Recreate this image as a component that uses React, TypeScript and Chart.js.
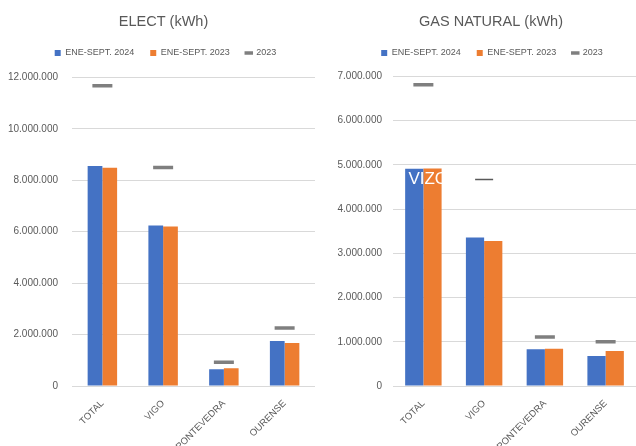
import React, { useEffect, useRef } from 'react';
import { Chart, registerables } from 'chart.js';
Chart.register(...registerables);

const categories = ['TOTAL', 'VIGO', 'PONTEVEDRA', 'OURENSE'];
const seriesNames = ['ENE-SEPT. 2024', 'ENE-SEPT. 2023', '2023'];

const electTitle = 'ELECT (kWh)';
const elect2024 = [8550000, 6240000, 650000, 1750000];
const elect2023 = [8490000, 6200000, 690000, 1670000];
const elect2023Marker = [11680000, 8500000, 920000, 2260000];
const electMax = 12000000;
const electStep = 2000000;

const gasTitle = 'GAS NATURAL (kWh)';
const gas2024 = [4910000, 3360000, 830000, 680000];
const gas2023 = [4920000, 3280000, 845000, 790000];
const gas2023Marker = [6810000, 4670000, 1110000, 1000000];
const gasMax = 7000000;
const gasStep = 1000000;

const overlayText = 'VIZO';

const FONT = "'Liberation Sans', Arial, sans-serif";
const TXT = '#595959';
const GRID = '#d9d9d9';
const BLUE = '#4472C4';
const ORANGE = '#ED7D31';
const MARK = '#7f7f7f';

const fmt = (v: number) => String(Math.round(v)).replace(/\B(?=(\d{3})+(?!\d))/g, '.');

type Opts = {
  title: string;
  a: number[];
  b: number[];
  m: number[];
  max: number;
  step: number;
  yWidth: number;
  tickPad: number;
  catPct: number;
  padRight: number;
  legendExtra: number;
  titleShift: number;
  legendShift: number;
  markerWidths: number[];
  markerRadii: number[];
  markerColors: string[];
  overlay?: string;
};

function makeChart(canvas: HTMLCanvasElement, o: Opts) {
  const helperPlugin = {
    id: 'helperPlugin',
    beforeLayout(chart: any) {
      const l = chart.legend;
      if (l && !l._patchedFit) {
        const orig = l.fit;
        l.fit = function () {
          orig.call(this);
          this.height += o.legendExtra;
        };
        l._patchedFit = true;
      }
    },
    afterLayout(chart: any) {
      const t = chart.titleBlock;
      if (t) {
        t.left += o.titleShift;
        t.right += o.titleShift;
      }
      const l = chart.legend;
      if (l) {
        l.left += o.legendShift;
        l.right += o.legendShift;
      }
    },
    afterDatasetsDraw(chart: any) {
      if (!o.overlay) return;
      const ctx = chart.ctx;
      const xs = chart.scales.x;
      const ys = chart.scales.y;
      ctx.save();
      ctx.fillStyle = '#ffffff';
      ctx.font = `17px ${FONT}`;
      ctx.textAlign = 'left';
      ctx.textBaseline = 'middle';
      ctx.fillText(o.overlay, xs.getPixelForValue(0) - 15, ys.getPixelForValue(o.m[1]));
      ctx.restore();
    },
  };
  return new Chart(canvas, {
    type: 'bar',
    data: {
      labels: categories,
      datasets: [
        {
          type: 'bar',
          label: seriesNames[0],
          data: o.a,
          backgroundColor: BLUE,
          borderWidth: 0,
          pointStyle: 'rect',
          order: 2,
          categoryPercentage: o.catPct,
          barPercentage: 1,
        } as any,
        {
          type: 'bar',
          label: seriesNames[1],
          data: o.b,
          backgroundColor: ORANGE,
          borderWidth: 0,
          pointStyle: 'rect',
          order: 2,
          categoryPercentage: o.catPct,
          barPercentage: 1,
        } as any,
        {
          type: 'line',
          label: seriesNames[2],
          data: o.m,
          showLine: false,
          borderColor: MARK,
          backgroundColor: MARK,
          borderWidth: 1.5,
          pointStyle: 'line',
          pointRadius: o.markerRadii,
          pointBorderWidth: o.markerWidths,
          pointBorderColor: o.markerColors,
          order: 1,
        } as any,
      ],
    },
    options: {
      responsive: false,
      animation: false,
      layout: { autoPadding: false, padding: { left: 0, right: o.padRight, top: 0, bottom: 0 } },
      plugins: {
        tooltip: { enabled: false },
        title: {
          display: true,
          text: o.title,
          color: TXT,
          font: { family: FONT, size: 14.5, weight: 'normal' },
          padding: { top: 13, bottom: 2 },
        },
        legend: {
          display: true,
          labels: {
            color: TXT,
            font: { family: FONT, size: 9 },
            usePointStyle: true,
            boxWidth: 6,
            boxHeight: 6,
            padding: 16,
            sort: (a: any, b: any) => a.datasetIndex - b.datasetIndex,
          },
        },
      },
      scales: {
        x: {
          grid: { display: false },
          border: { display: false },
          ticks: {
            color: TXT,
            font: { family: FONT, size: 9.5 },
            minRotation: 45,
            maxRotation: 45,
            padding: 4,
          },
          afterFit: (s: any) => {
            s.height = 60;
            s.paddingLeft = 0;
            s.paddingRight = 0;
          },
        },
        y: {
          min: 0,
          max: o.max,
          grid: { color: GRID, drawTicks: false, lineWidth: 1 },
          border: { display: false },
          ticks: {
            stepSize: o.step,
            color: TXT,
            font: { family: FONT, size: 10 },
            padding: o.tickPad,
            callback: (v: any) => fmt(Number(v)),
          },
          afterFit: (s: any) => {
            s.width = o.yWidth;
            s.paddingLeft = 0;
            s.paddingRight = 0;
          },
        },
      },
    } as any,
    plugins: [helperPlugin],
  });
}

function ChartBox({ opts, left }: { opts: Opts; left: number }) {
  const ref = useRef<HTMLCanvasElement | null>(null);
  useEffect(() => {
    if (!ref.current) return;
    const c = makeChart(ref.current, opts);
    return () => c.destroy();
  }, []);
  return (
    <div style={{ position: 'absolute', left, top: 0, width: 318, height: 446 }}>
      <canvas ref={ref} width={318} height={446} style={{ width: 318, height: 446, display: 'block' }} />
    </div>
  );
}

export default function App() {
  const electOpts: Opts = {
    title: electTitle,
    a: elect2024,
    b: elect2023,
    m: elect2023Marker,
    max: electMax,
    step: electStep,
    yWidth: 72,
    tickPad: 14,
    catPct: 0.485,
    padRight: 3,
    legendExtra: 10,
    titleShift: 6,
    legendShift: 8,
    markerWidths: [3.5, 3.5, 3.5, 3.5],
    markerRadii: [10, 10, 10, 10],
    markerColors: [MARK, MARK, MARK, MARK],
  };
  const gasOpts: Opts = {
    title: gasTitle,
    a: gas2024,
    b: gas2023,
    m: gas2023Marker,
    max: gasMax,
    step: gasStep,
    yWidth: 75,
    tickPad: 11,
    catPct: 0.6,
    padRight: 0,
    legendExtra: 9,
    titleShift: 14,
    legendShift: 15,
    markerWidths: [3.5, 1.5, 3.5, 3.5],
    markerRadii: [10, 9, 10, 10],
    markerColors: [MARK, '#595959', MARK, MARK],
    overlay: overlayText,
  };
  return (
    <div style={{ position: 'fixed', left: 0, top: 0, width: 636, height: 446, background: '#fff', overflow: 'hidden' }}>
      <ChartBox opts={electOpts} left={0} />
      <ChartBox opts={gasOpts} left={318} />
    </div>
  );
}
